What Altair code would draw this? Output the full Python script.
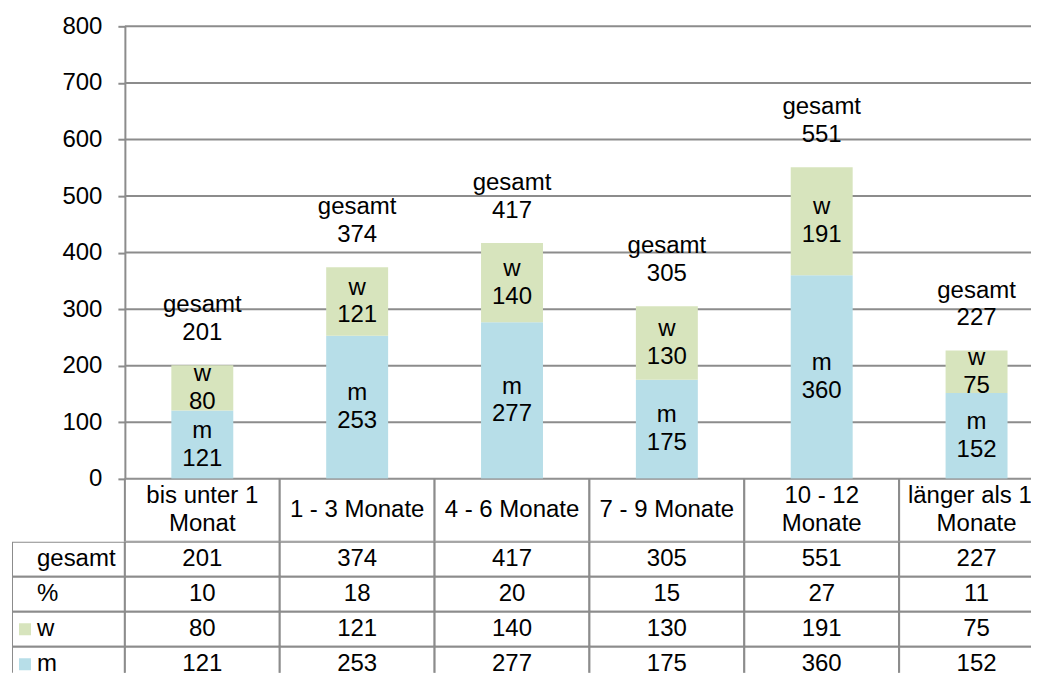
import altair as alt
import pandas as pd

# ---------------- data ----------------
categories = ["bis unter 1\nMonat", "1 - 3 Monate", "4 - 6 Monate",
              "7 - 9 Monate", "10 - 12\nMonate", "länger als 12\nMonate"]
m_values = [121, 253, 277, 175, 360, 152]
w_values = [80, 121, 140, 130, 191, 75]
gesamt_values = [201, 374, 417, 305, 551, 227]
percent_values = [10, 18, 20, 15, 27, 11]
series_names = ["m", "w"]
row_labels = ["gesamt", "%", "w", "m"]
y_ticks = [0, 100, 200, 300, 400, 500, 600, 700, 800]

# ---------------- style / layout ----------------
FONT = "Liberation Sans"
FS = 24
LH = 28
GREY = "#8c8c8c"
BLUE = "#b7dee8"
GREEN = "#d7e4bd"
STEP = 155          # column width in px
LABEL_COL = 113     # width of the row-label column in px
N = len(categories)
LABEL_X0 = -LABEL_COL / STEP
TAB_W = 1020        # visible width (the rest of the last column is cut off)
TOP_H = 453
HEAD_H = 63
ROW_H = 35
BODY_VISIBLE_H = 131

color_scale = alt.Scale(domain=series_names, range=[BLUE, GREEN])

# ---------------- top: stacked bars ----------------
bars_df = pd.DataFrame({
    "cat": categories * 2,
    "series": ["m"] * N + ["w"] * N,
    "value": m_values + w_values,
    "order": [0] * N + [1] * N,
    "mid": [v / 2 for v in m_values] + [m + w / 2 for m, w in zip(m_values, w_values)],
})
bars_df["label"] = bars_df["series"] + "\n" + bars_df["value"].astype(str)

tot_df = pd.DataFrame({
    "cat": categories,
    "total": gesamt_values,
    "label": ["gesamt\n" + str(g) for g in gesamt_values],
})
grid_df = pd.DataFrame({"tick": y_ticks})

x_top = alt.X("cat:N", sort=categories,
              scale=alt.Scale(domain=categories, range=[LABEL_COL, LABEL_COL + STEP * N],
                              paddingInner=0.6, paddingOuter=0.3),
              axis=None)
y_scale = alt.Scale(domain=[0, 800])
y_axis = alt.Axis(values=y_ticks, title=None, grid=False, offset=-LABEL_COL,
                  domainColor=GREY, domainWidth=2, tickColor=GREY, tickWidth=2,
                  tickSize=7, labelPadding=16, labelFont=FONT, labelFontSize=FS,
                  labelColor="black")

grid = alt.Chart(grid_df).mark_rule(color=GREY, strokeWidth=2).encode(
    y=alt.Y("tick:Q", scale=y_scale, axis=y_axis),
    x=alt.value(LABEL_COL), x2=alt.value(TAB_W))
bars = alt.Chart(bars_df).mark_bar(clip=True).encode(
    x=x_top,
    y=alt.Y("value:Q", stack="zero", scale=y_scale),
    color=alt.Color("series:N", scale=color_scale, legend=None),
    order=alt.Order("order:Q"),
)
seg_labels = alt.Chart(bars_df).mark_text(
    font=FONT, fontSize=FS, color="black", lineBreak="\n", lineHeight=LH,
    baseline="middle", align="center", dy=-LH / 2, clip=True
).encode(x=x_top, y=alt.Y("mid:Q", scale=y_scale), text="label:N")
tot_labels = alt.Chart(tot_df).mark_text(
    font=FONT, fontSize=FS, color="black", lineBreak="\n", lineHeight=LH,
    baseline="middle", align="center", dy=-46 - LH / 2, clip=True
).encode(x=x_top, y=alt.Y("total:Q", scale=y_scale), text="label:N")

top = alt.layer(grid, bars, seg_labels, tot_labels).properties(width=TAB_W, height=TOP_H)

# ---------------- table header ----------------
x_scale_tab = alt.Scale(domain=[LABEL_X0, N], range=[0, LABEL_COL + STEP * N],
                        nice=False, zero=False)
head_df = pd.DataFrame({
    "x0": list(range(N)),
    "x1": [i + 1 for i in range(N)],
    "xc": [i + 0.5 for i in range(N)],
    "label": categories,
    "lines": [c.count("\n") + 1 for c in categories],
})
head_rect = alt.Chart(head_df).mark_rect(fill="white", stroke=GREY, strokeWidth=2, clip=True).encode(
    x=alt.X("x0:Q", scale=x_scale_tab, axis=None), x2="x1:Q")
head_text1 = alt.Chart(head_df).transform_filter("datum.lines == 1").mark_text(
    font=FONT, fontSize=FS, color="black", baseline="middle", align="center", clip=True
).encode(x=alt.X("xc:Q", scale=x_scale_tab, axis=None), text="label:N")
head_text2 = alt.Chart(head_df).transform_filter("datum.lines == 2").mark_text(
    font=FONT, fontSize=FS, color="black", lineBreak="\n", lineHeight=LH,
    baseline="middle", align="center", dy=-LH / 2, clip=True
).encode(x=alt.X("xc:Q", scale=x_scale_tab, axis=None), text="label:N")
header = alt.layer(head_rect, head_text1, head_text2).properties(width=TAB_W, height=HEAD_H)

# ---------------- table body ----------------
row_values = {"gesamt": gesamt_values, "%": percent_values, "w": w_values, "m": m_values}
cells = []
for r in row_labels:
    cells.append({"row": r, "x0": LABEL_X0, "x1": 0, "xc": LABEL_X0 / 2, "text": ""})
    for i, v in enumerate(row_values[r]):
        cells.append({"row": r, "x0": i, "x1": i + 1, "xc": i + 0.5, "text": str(v)})
cells_df = pd.DataFrame(cells)
lab_df = pd.DataFrame({"row": row_labels, "x0": [LABEL_X0] * len(row_labels)})
sw_df = pd.DataFrame({"row": ["w", "m"], "x0": [LABEL_X0] * 2, "series": ["w", "m"]})

y_tab = alt.Y("row:N", sort=row_labels,
              scale=alt.Scale(domain=row_labels, range=[0, ROW_H * len(row_labels)],
                              paddingInner=0, paddingOuter=0),
              axis=None)

body_rect = alt.Chart(cells_df).mark_rect(fill="white", stroke=GREY, strokeWidth=2, clip=True).encode(
    x=alt.X("x0:Q", scale=x_scale_tab, axis=None), x2="x1:Q", y=y_tab)
body_text = alt.Chart(cells_df).mark_text(
    font=FONT, fontSize=FS, color="black", baseline="middle", align="center", clip=True
).encode(x=alt.X("xc:Q", scale=x_scale_tab, axis=None), y=y_tab, text="text:N")
row_text = alt.Chart(lab_df).mark_text(
    font=FONT, fontSize=FS, color="black", baseline="middle", align="left", dx=25, clip=True
).encode(x=alt.X("x0:Q", scale=x_scale_tab, axis=None), y=y_tab, text="row:N")
swatch = alt.Chart(sw_df).mark_square(size=144, opacity=1, xOffset=13, clip=True).encode(
    x=alt.X("x0:Q", scale=x_scale_tab, axis=None), y=y_tab,
    color=alt.Color("series:N", scale=color_scale, legend=None))
body = alt.layer(body_rect, body_text, row_text, swatch).properties(
    width=TAB_W, height=BODY_VISIBLE_H)

chart = alt.vconcat(top, header, body, spacing=0, bounds="flush").properties(
    padding={"left": 4, "top": 6, "right": 0, "bottom": 0},
    background="white",
).configure_view(stroke=None)

chart.save("out.html", embed_options={"renderer": "svg", "actions": False})
